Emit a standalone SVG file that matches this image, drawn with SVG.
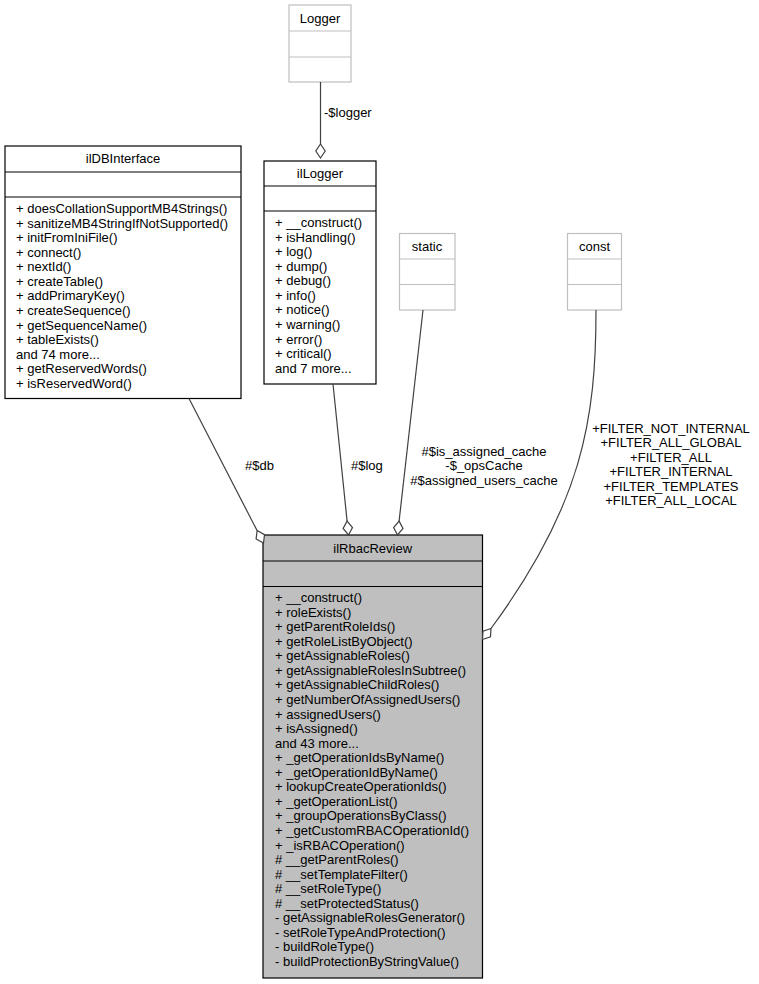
<svg xmlns="http://www.w3.org/2000/svg" width="759" height="984" viewBox="0 0 759 984">
<style>
text{font-family:"Liberation Sans",Arial,Helvetica,sans-serif;font-size:13px;fill:#000}
.c{text-anchor:middle}
.box{fill:#fff;stroke:#000;stroke-width:1.2}
.gbox{fill:#fff;stroke:#bfbfbf;stroke-width:1.2}
.sel{fill:#bfbfbf;stroke:#000;stroke-width:1.2}
.edge{fill:none;stroke:#404040;stroke-width:1.2}
.dia{fill:#fff;stroke:#404040;stroke-width:1.2}
</style>
<rect width="759" height="984" fill="#fff"/>

<g id="Logger">
<rect class="gbox" x="289" y="5" width="62" height="77"/>
<line class="gbox" x1="289" y1="31" x2="351" y2="31"/>
<line class="gbox" x1="289" y1="57" x2="351" y2="57"/>
<text class="c" x="320" y="22.5">Logger</text>
</g>

<g id="static">
<rect class="gbox" x="399.5" y="233.5" width="55.5" height="76.5"/>
<line class="gbox" x1="399.5" y1="259" x2="455" y2="259"/>
<line class="gbox" x1="399.5" y1="284.5" x2="455" y2="284.5"/>
<text class="c" x="427" y="250.5">static</text>
</g>

<g id="const">
<rect class="gbox" x="567.5" y="233.5" width="54" height="76.5"/>
<line class="gbox" x1="567.5" y1="259" x2="621.5" y2="259"/>
<line class="gbox" x1="567.5" y1="284.5" x2="621.5" y2="284.5"/>
<text class="c" x="594.5" y="250.5">const</text>
</g>

<g id="ilDBInterface">
<rect class="box" x="5" y="146" width="236" height="252.5"/>
<line class="box" x1="5" y1="172" x2="241" y2="172"/>
<line class="box" x1="5" y1="197" x2="241" y2="197"/>
<text class="c" x="123" y="163">ilDBInterface</text>
<text x="16" y="213">+ doesCollationSupportMB4Strings()</text>
<text x="16" y="227.6">+ sanitizeMB4StringIfNotSupported()</text>
<text x="16" y="242.1">+ initFromIniFile()</text>
<text x="16" y="256.7">+ connect()</text>
<text x="16" y="271.2">+ nextId()</text>
<text x="16" y="285.8">+ createTable()</text>
<text x="16" y="300.4">+ addPrimaryKey()</text>
<text x="16" y="314.9">+ createSequence()</text>
<text x="16" y="329.5">+ getSequenceName()</text>
<text x="16" y="344">+ tableExists()</text>
<text x="16" y="358.6">and 74 more...</text>
<text x="16" y="373.2">+ getReservedWords()</text>
<text x="16" y="387.7">+ isReservedWord()</text>
</g>

<g id="ilLogger">
<rect class="box" x="264" y="161" width="112" height="223"/>
<line class="box" x1="264" y1="186" x2="376" y2="186"/>
<line class="box" x1="264" y1="211" x2="376" y2="211"/>
<text class="c" x="320" y="178">ilLogger</text>
<text x="275" y="227">+ __construct()</text>
<text x="275" y="241.6">+ isHandling()</text>
<text x="275" y="256.1">+ log()</text>
<text x="275" y="270.7">+ dump()</text>
<text x="275" y="285.2">+ debug()</text>
<text x="275" y="299.8">+ info()</text>
<text x="275" y="314.4">+ notice()</text>
<text x="275" y="328.9">+ warning()</text>
<text x="275" y="343.5">+ error()</text>
<text x="275" y="358">+ critical()</text>
<text x="275" y="372.6">and 7 more...</text>
</g>

<g id="ilRbacReview">
<rect class="sel" x="263" y="535" width="219.5" height="443"/>
<line class="sel" x1="263" y1="561" x2="482.5" y2="561"/>
<line class="sel" x1="263" y1="586.5" x2="482.5" y2="586.5"/>
<text class="c" x="372.7" y="552.5">ilRbacReview</text>
<text x="275" y="602">+ __construct()</text>
<text x="275" y="616.6">+ roleExists()</text>
<text x="275" y="631.1">+ getParentRoleIds()</text>
<text x="275" y="645.7">+ getRoleListByObject()</text>
<text x="275" y="660.2">+ getAssignableRoles()</text>
<text x="275" y="674.8">+ getAssignableRolesInSubtree()</text>
<text x="275" y="689.4">+ getAssignableChildRoles()</text>
<text x="275" y="703.9">+ getNumberOfAssignedUsers()</text>
<text x="275" y="718.5">+ assignedUsers()</text>
<text x="275" y="733">+ isAssigned()</text>
<text x="275" y="747.6">and 43 more...</text>
<text x="275" y="762.2">+ _getOperationIdsByName()</text>
<text x="275" y="776.7">+ _getOperationIdByName()</text>
<text x="275" y="791.3">+ lookupCreateOperationIds()</text>
<text x="275" y="805.8">+ _getOperationList()</text>
<text x="275" y="820.4">+ _groupOperationsByClass()</text>
<text x="275" y="835">+ _getCustomRBACOperationId()</text>
<text x="275" y="849.5">+ _isRBACOperation()</text>
<text x="275" y="864.1"># __getParentRoles()</text>
<text x="275" y="878.6"># __setTemplateFilter()</text>
<text x="275" y="893.2"># __setRoleType()</text>
<text x="275" y="907.8"># __setProtectedStatus()</text>
<text x="275" y="922.3">- getAssignableRolesGenerator()</text>
<text x="275" y="936.9">- setRoleTypeAndProtection()</text>
<text x="275" y="951.4">- buildRoleType()</text>
<text x="275" y="966">- buildProtectionByStringValue()</text>
</g>

<g id="connectors">
<g id="edge-logger">
<path class="edge" d="M320.5,82 L320.5,144"/>
<polygon class="dia" points="320.5,144 325.2,151 320.5,158 315.8,151"/>
<text x="324" y="117">-$logger</text>
</g>
<g id="edge-db">
<path class="edge" d="M189,398.5 L257.1,530.6"/>
<polygon class="dia" points="257.1,530.6 264.5,534.7 263.5,543 256.1,539"/>
<text x="245" y="470">#$db</text>
</g>
<g id="edge-log">
<path class="edge" d="M333,384 L347.1,521.1"/>
<polygon class="dia" points="347.1,521.1 352.5,527.6 348.5,535 343.1,528.5"/>
<text x="351" y="470">#$log</text>
</g>
<g id="edge-static">
<path class="edge" d="M423,310 L399.1,521.1"/>
<polygon class="dia" points="399.1,521.1 403,528.5 397.5,535 393.6,527.5"/>
<text class="c" x="484" y="455.5">#$is_assigned_cache</text>
<text class="c" x="484" y="470">-$_opsCache</text>
<text class="c" x="484" y="484.5">#$assigned_users_cache</text>
</g>
<g id="edge-const">
<path class="edge" d="M596,310 C596,420 582,505 491,628.5"/>
<polygon class="dia" points="491,628.5 490.5,636.9 482.5,639.5 483,631.1"/>
<text class="c" x="671" y="432.5">+FILTER_NOT_INTERNAL</text>
<text class="c" x="671" y="447">+FILTER_ALL_GLOBAL</text>
<text class="c" x="671" y="461.5">+FILTER_ALL</text>
<text class="c" x="671" y="476">+FILTER_INTERNAL</text>
<text class="c" x="671" y="490.5">+FILTER_TEMPLATES</text>
<text class="c" x="671" y="505">+FILTER_ALL_LOCAL</text>
</g>
</g>
</svg>
